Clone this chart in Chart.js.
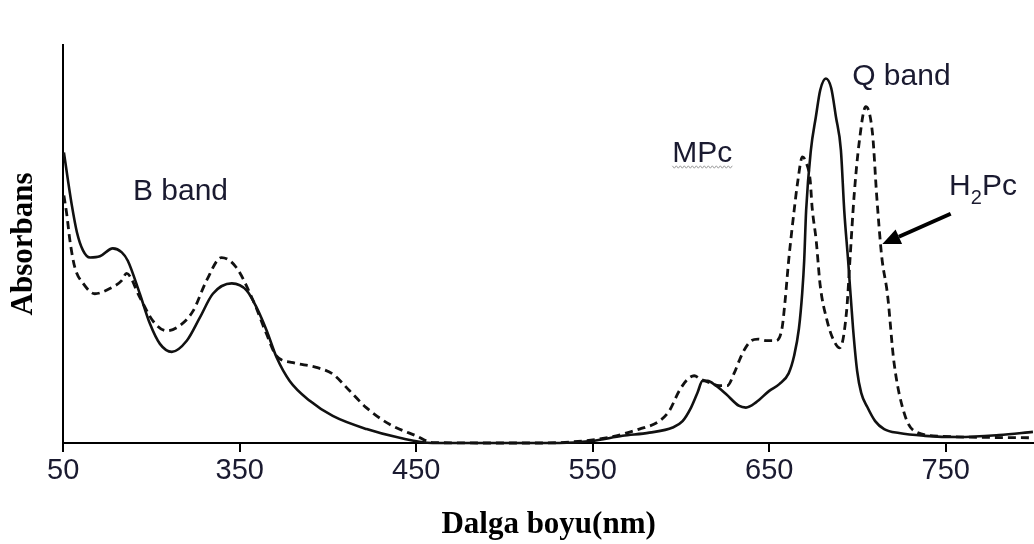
<!DOCTYPE html>
<html>
<head>
<meta charset="utf-8">
<script src="https://cdn.jsdelivr.net/npm/chart.js@4.4.0/dist/chart.umd.min.js"></script>
<style>
html,body{margin:0;padding:0;background:#fff;}
#wrap{width:1034px;height:544px;position:relative;}
</style>
</head>
<body>
<div id="wrap"><canvas id="c"></canvas></div>
<script>
// MPc (solid line)
const mpcWavelength = [250.4,252.7,254.9,257.8,261.2,265.2,270.8,278.1,283.2,286.6,293.4,299.1,304.8,311.5,320.0,327.4,334.8,345.5,354.0,359.6,365.3,371.0,378.3,389.7,402.7,421.9,440.6,459.3,497.2,531.1,549.1,566.9,582.1,595.3,600.9,605.7,609.4,612.2,615.1,619.8,625.5,633.0,636.8,642.5,650.0,655.7,661.0,664.1,666.8,668.7,669.8,670.9,673.6,676.4,678.9,682.1,685.1,687.8,690.6,692.5,694.7,697.5,699.8,702.1,705.5,710.0,715.1,723.6,738.3,757.5,780.2,799.4];
const mpcAbsorbance = [0.730,0.660,0.597,0.529,0.484,0.466,0.469,0.489,0.479,0.458,0.375,0.300,0.249,0.229,0.257,0.315,0.375,0.401,0.383,0.340,0.282,0.214,0.156,0.106,0.068,0.035,0.013,0.000,0.000,0.000,0.005,0.018,0.026,0.039,0.055,0.089,0.127,0.156,0.156,0.144,0.123,0.093,0.089,0.102,0.131,0.148,0.175,0.219,0.287,0.378,0.458,0.584,0.736,0.819,0.887,0.916,0.892,0.819,0.736,0.584,0.458,0.287,0.181,0.126,0.091,0.055,0.035,0.025,0.018,0.015,0.020,0.028];

// H2Pc (dashed line)
const h2pcWavelength = [250.4,252.1,253.8,256.6,261.3,267.9,276.4,283.1,285.9,293.4,300.8,308.5,316.1,323.6,331.2,339.7,348.1,357.6,365.1,370.8,380.3,393.4,402.8,412.3,421.7,434.9,450.0,459.4,497.2,519.8,557.6,576.4,587.7,593.4,599.0,603.7,607.5,611.3,616.0,621.7,626.2,630.2,633.0,636.0,639.8,643.7,648.9,653.3,657.2,659.0,661.0,664.1,666.0,668.8,670.9,673.2,674.3,676.6,678.9,682.8,686.1,690.0,693.8,695.7,698.1,700.9,704.7,708.5,710.9,713.2,714.0,717.0,720.7,726.6,732.3,747.8,799.4];
const h2pcAbsorbance = [0.622,0.572,0.509,0.441,0.401,0.375,0.388,0.408,0.426,0.366,0.307,0.282,0.295,0.332,0.408,0.466,0.441,0.358,0.275,0.219,0.202,0.190,0.173,0.131,0.089,0.047,0.018,0.001,0.000,0.000,0.013,0.035,0.055,0.081,0.131,0.160,0.169,0.160,0.152,0.144,0.144,0.176,0.207,0.235,0.257,0.261,0.257,0.257,0.287,0.358,0.458,0.584,0.652,0.719,0.705,0.660,0.592,0.509,0.395,0.307,0.262,0.239,0.330,0.458,0.622,0.753,0.845,0.778,0.620,0.492,0.458,0.373,0.202,0.073,0.030,0.017,0.013];

const xTickValues = [250,350,450,550,650,750];
const xTickLabels = ['50','350','450','550','650','750'];

// Annotation texts anchored in data coordinates (wavelength, absorbance)
const bandLabelTexts = ['B band','Q band','MPc'];
const bandLabelX = [289.5,697.0,595.1];
const bandLabelY = [0.610,0.899,0.706];
const h2pcLabelAt = [751.9,0.622];
const arrowFrom = [752.8,0.576];
const arrowTo = [714.1,0.500];

const toPoints = (xs, ys) => xs.map((x, i) => ({x: x, y: ys[i]}));

const SANS = '"Liberation Sans", Arial, sans-serif';
const SERIF = '"Liberation Serif", "Times New Roman", serif';
const TEXT_COLOR = '#1a1a30';

const annotations = {
  id: 'annotations',
  afterDatasetsDraw(chart) {
    const {ctx, scales: {x, y}} = chart;
    ctx.save();
    ctx.fillStyle = TEXT_COLOR;
    ctx.textAlign = 'left';
    ctx.textBaseline = 'alphabetic';
    ctx.font = '30px ' + SANS;
    bandLabelTexts.forEach((t, i) => {
      ctx.fillText(t, x.getPixelForValue(bandLabelX[i]), y.getPixelForValue(bandLabelY[i]));
    });
    // wavy underline under MPc
    const mx = x.getPixelForValue(bandLabelX[2]);
    const my = y.getPixelForValue(bandLabelY[2]) + 5;
    const mw = ctx.measureText(bandLabelTexts[2]).width;
    ctx.strokeStyle = '#9a9a9a';
    ctx.lineWidth = 1;
    ctx.beginPath();
    let up = true;
    for (let k = 0; k <= mw; k += 2) {
      const yy = my + (up ? -1.2 : 1.2);
      if (k === 0) ctx.moveTo(mx + k, yy); else ctx.lineTo(mx + k, yy);
      up = !up;
    }
    ctx.stroke();
    // H2Pc with subscript
    let hx = x.getPixelForValue(h2pcLabelAt[0]);
    const hy = y.getPixelForValue(h2pcLabelAt[1]);
    ctx.font = '30px ' + SANS;
    ctx.fillText('H', hx, hy);
    hx += ctx.measureText('H').width;
    ctx.font = '20px ' + SANS;
    ctx.fillText('2', hx, hy + 9);
    hx += ctx.measureText('2').width;
    ctx.font = '30px ' + SANS;
    ctx.fillText('Pc', hx, hy);
    // arrow
    const x1 = x.getPixelForValue(arrowFrom[0]), y1 = y.getPixelForValue(arrowFrom[1]);
    const x2 = x.getPixelForValue(arrowTo[0]), y2 = y.getPixelForValue(arrowTo[1]);
    const ang = Math.atan2(y2 - y1, x2 - x1);
    const headLen = 18, headW = 8;
    const bx = x2 - headLen * Math.cos(ang), by = y2 - headLen * Math.sin(ang);
    ctx.strokeStyle = '#000';
    ctx.fillStyle = '#000';
    ctx.lineWidth = 4;
    ctx.beginPath();
    ctx.moveTo(x1, y1);
    ctx.lineTo(bx, by);
    ctx.stroke();
    ctx.beginPath();
    ctx.moveTo(x2, y2);
    ctx.lineTo(bx + headW * Math.sin(ang), by - headW * Math.cos(ang));
    ctx.lineTo(bx - headW * Math.sin(ang), by + headW * Math.cos(ang));
    ctx.closePath();
    ctx.fill();
    ctx.restore();
  }
};

new Chart(document.getElementById('c'), {
  type: 'line',
  data: {
    datasets: [
      {
        label: 'MPc',
        data: toPoints(mpcWavelength, mpcAbsorbance),
        borderColor: '#111',
        borderWidth: 2.6,
        cubicInterpolationMode: 'monotone',
        pointRadius: 0,
        fill: false,
        clip: false
      },
      {
        label: 'H2Pc',
        data: toPoints(h2pcWavelength, h2pcAbsorbance),
        borderColor: '#111',
        borderWidth: 2.8,
        borderDash: [8, 5],
        cubicInterpolationMode: 'monotone',
        pointRadius: 0,
        fill: false,
        clip: false
      }
    ]
  },
  options: {
    responsive: true,
    maintainAspectRatio: false,
    animation: false,
    layout: {padding: {top: 45, left: 0, right: 0, bottom: 0}},
    plugins: {legend: {display: false}, tooltip: {enabled: false}},
    scales: {
      x: {
        type: 'linear',
        min: 250,
        max: 800,
        afterBuildTicks: (scale) => { scale.ticks = xTickValues.map(v => ({value: v})); },
        ticks: {
          autoSkip: false,
          maxRotation: 0,
          padding: 2,
          color: TEXT_COLOR,
          font: {family: SANS, size: 29},
          callback: (v) => { const i = xTickValues.indexOf(v); return i >= 0 ? xTickLabels[i] : ''; }
        },
        grid: {display: true, drawOnChartArea: false, drawTicks: true, tickLength: 9, color: '#000', lineWidth: 2},
        border: {display: true, color: '#000', width: 2},
        title: {
          display: true,
          text: 'Dalga boyu(nm)',
          color: '#000',
          font: {family: SERIF, size: 31, weight: 'bold'},
          padding: {top: 16, bottom: 0}
        }
      },
      y: {
        type: 'linear',
        min: 0,
        max: 1,
        ticks: {display: false},
        grid: {display: false, drawTicks: false},
        border: {display: true, color: '#000', width: 2},
        title: {
          display: true,
          text: 'Absorbans',
          color: '#000',
          font: {family: SERIF, size: 31, weight: 'bold'},
          padding: {top: 5, bottom: 21}
        }
      }
    }
  },
  plugins: [annotations]
});
</script>
</body>
</html>
